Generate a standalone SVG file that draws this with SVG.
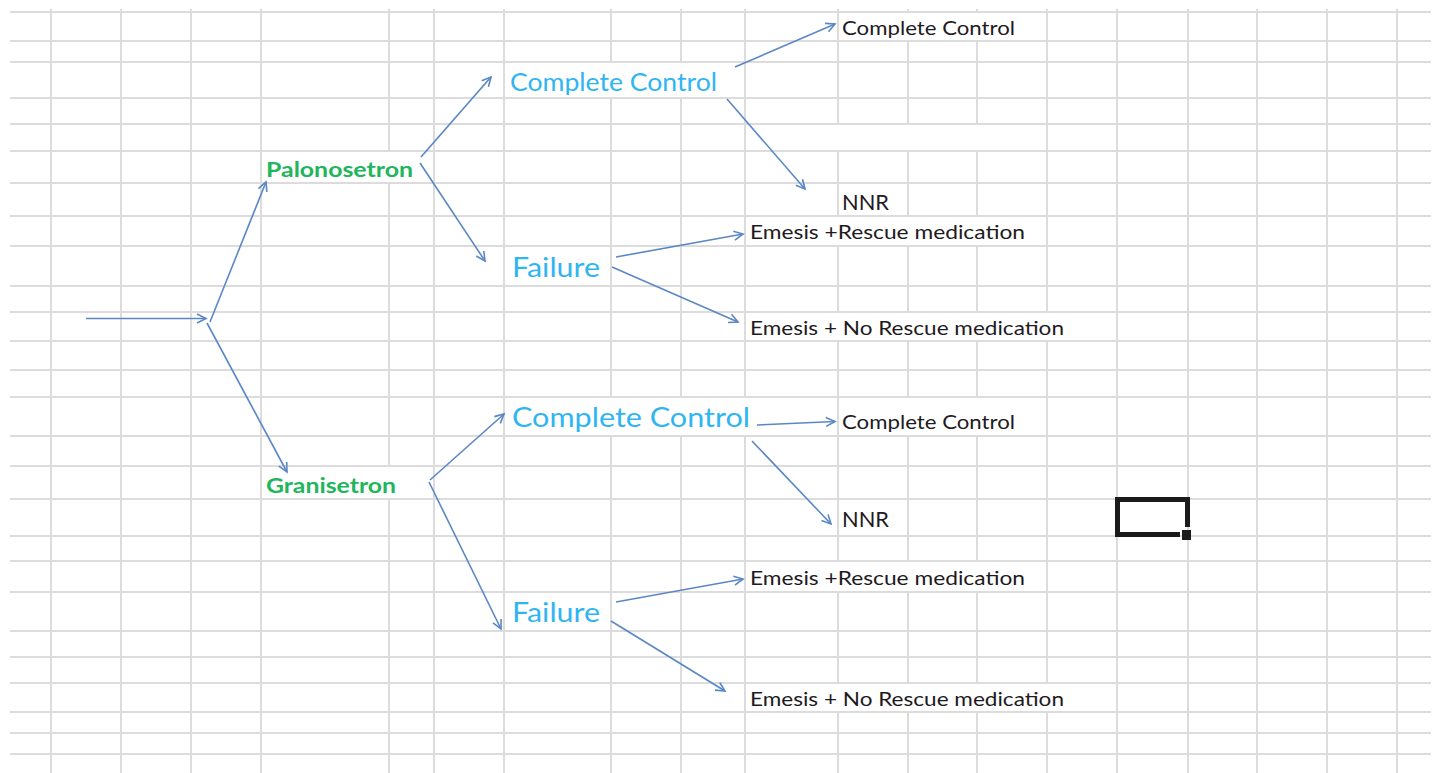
<svg xmlns="http://www.w3.org/2000/svg" width="1435" height="773" viewBox="0 0 1435 773">
<style>
.grid{stroke:#dcdcdc;stroke-width:2;fill:none}
.t{font-family:Lato,"Open Sans","Liberation Sans",sans-serif}
.blk{fill:#1e1a22;font-size:20px}
.nnr{fill:#1e1a22;font-size:22px}
.blue{fill:#2fb5f2}
.green{fill:#21b55c;font-weight:bold;font-size:21px}
.c{stroke:#5b87c7;stroke-width:1.6;fill:none;marker-end:url(#ah)}
</style>
<defs>
<marker id="ah" markerWidth="12" markerHeight="12" refX="10" refY="6" orient="auto" markerUnits="userSpaceOnUse">
<path d="M1,1.5 L10,6 L1,10.5" fill="none" stroke="#5b87c7" stroke-width="1.6"/>
</marker>
</defs>
<rect width="1435" height="773" fill="#ffffff"/>
<g id="grid">
<path class="grid" d="M10 12H1431M10 41H1431M10 62H1431M10 98H1431M10 124H1431M10 151H1431M10 183H1431M10 216H1431M10 246H1431M10 286H1431M10 312H1431M10 341H1431M10 370H1431M10 397H1431M10 436H1431M10 466H1431M10 499H1431M10 536H1431M10 561H1431M10 592H1431M10 631H1431M10 657H1431M10 683H1431M10 712H1431M10 733H1431M10 754H1431"/>
<path class="grid" d="M51 9V773M121 9V773M191 9V773M261 9V773M434 9V773M504 9V773M1117 9V773M1188 9V773M1257 9V773M1327 9V773M1397 9V773
M389 9V151M389 183V466M389 499V773
M611 9V62M611 98V397M611 436V773
M681 9V62M681 98V397M681 436V773
M745 9V397M745 436V773
M838 9V124M838 151V216M838 246V312M838 341V561M838 592V683M838 712V773
M908 9V12M908 41V124M908 151V216M908 246V312M908 341V397M908 436V561M908 592V683M908 712V773
M977 9V12M977 41V124M977 151V216M977 246V312M977 341V397M977 436V561M977 592V683M977 712V773
M1047 9V312M1047 341V683M1047 712V773"/>
</g>
<g id="connectors">
<line class="c" x1="86" y1="318.5" x2="206" y2="318.5"/>
<line class="c" x1="210" y1="322" x2="266" y2="182"/>
<line class="c" x1="207" y1="323" x2="287" y2="472"/>
<line class="c" x1="421" y1="157" x2="491" y2="77"/>
<line class="c" x1="420" y1="163" x2="485" y2="261"/>
<line class="c" x1="735" y1="67" x2="835" y2="24"/>
<line class="c" x1="727" y1="99" x2="805" y2="189"/>
<line class="c" x1="616" y1="257" x2="743" y2="234"/>
<line class="c" x1="612" y1="267" x2="738" y2="322"/>
<line class="c" x1="430" y1="480" x2="504" y2="414"/>
<line class="c" x1="429" y1="482" x2="501" y2="629"/>
<line class="c" x1="757" y1="425" x2="835" y2="421.5"/>
<line class="c" x1="752" y1="441" x2="831" y2="524"/>
<line class="c" x1="616" y1="602" x2="743" y2="579"/>
<line class="c" x1="611" y1="621" x2="725" y2="691"/>
</g>
<g id="n_pal"><text class="t green" x="266" y="177" textLength="147" lengthAdjust="spacingAndGlyphs">Palonosetron</text></g>
<g id="n_gra"><text class="t green" x="266" y="493" textLength="130" lengthAdjust="spacingAndGlyphs">Granisetron</text></g>
<g id="n_cc1"><text class="t blue" x="510" y="91" font-size="25" textLength="207" lengthAdjust="spacingAndGlyphs">Complete Control</text></g>
<g id="n_fail1"><text class="t blue" x="512" y="277" font-size="27" textLength="88" lengthAdjust="spacingAndGlyphs">Failure</text></g>
<g id="n_cc2"><text class="t blue" x="512" y="427" font-size="26" textLength="238" lengthAdjust="spacingAndGlyphs">Complete Control</text></g>
<g id="n_fail2"><text class="t blue" x="512" y="622" font-size="27" textLength="88" lengthAdjust="spacingAndGlyphs">Failure</text></g>
<g id="n_cc1a"><text class="t blk" x="842" y="35" textLength="173" lengthAdjust="spacingAndGlyphs">Complete Control</text></g>
<g id="n_nnr1"><text class="t nnr" x="842" y="210" textLength="47" lengthAdjust="spacingAndGlyphs">NNR</text></g>
<g id="n_er1"><text class="t blk" x="750" y="239" textLength="275" lengthAdjust="spacingAndGlyphs">Emesis +Rescue medication</text></g>
<g id="n_enr1"><text class="t blk" x="750" y="335" textLength="314" lengthAdjust="spacingAndGlyphs">Emesis + No Rescue medication</text></g>
<g id="n_cc2a"><text class="t blk" x="842" y="429" textLength="173" lengthAdjust="spacingAndGlyphs">Complete Control</text></g>
<g id="n_nnr2"><text class="t nnr" x="842" y="527" textLength="47" lengthAdjust="spacingAndGlyphs">NNR</text></g>
<g id="n_er2"><text class="t blk" x="750" y="585" textLength="275" lengthAdjust="spacingAndGlyphs">Emesis +Rescue medication</text></g>
<g id="n_enr2"><text class="t blk" x="750" y="706" textLength="314" lengthAdjust="spacingAndGlyphs">Emesis + No Rescue medication</text></g>
<g id="selection">
<path d="M1180 534.5H1117.5V499.5H1187.5V527" fill="none" stroke="#1b1b1b" stroke-width="5"/>
<rect x="1182" y="530" width="9" height="10" fill="#1b1b1b"/>
</g>
</svg>
